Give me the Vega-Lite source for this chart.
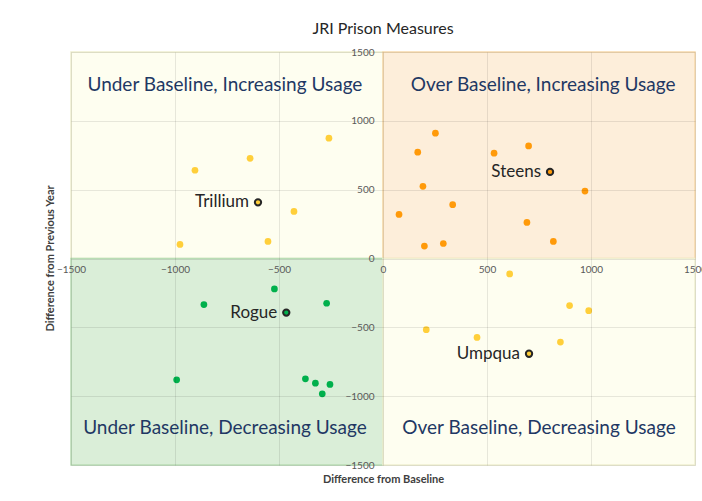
{
  "$schema": "https://vega.github.io/schema/vega-lite/v6.json",
  "autosize": "none",
  "width": 624,
  "height": 413,
  "padding": {"left": 71, "top": 52, "right": 7, "bottom": 36},
  "background": "white",
  "title": {"text": "JRI Prison Measures", "font": "Lato", "fontSize": 16, "fontWeight": "normal", "color": "#262626", "anchor": "middle", "offset": 10},
  "config": {
    "view": {"stroke": null},
    "axis": {"labelFont": "Lato", "labelFontSize": 10, "labelColor": "#595959", "titleFont": "Lato", "titleFontSize": 11, "titleColor": "#404040", "titleFontWeight": "bold", "gridColor": "#000000", "gridOpacity": 0.09, "domain": false, "ticks": false}
  },
  "encoding": {
    "x": {"field": "x", "type": "quantitative", "scale": {"domain": [-1500, 1500], "nice": false, "zero": false},
      "axis": {"orient": "bottom", "offset": -206, "zindex": 1, "format": "d", "values": [-1500, -1000, -500, 0, 500, 1000, 1500], "labelPadding": 5, "labelFlush": false, "labelOverlap": false, "title": "Difference from Baseline", "titleY": 214, "titleX": 312}},
    "y": {"field": "y", "type": "quantitative", "scale": {"domain": [-1500, 1500], "nice": false, "zero": false},
      "axis": {"orient": "left", "offset": -312, "zindex": 1, "format": "d", "values": [-1500, -1000, -500, 0, 500, 1000, 1500], "labelPadding": 9, "labelFlush": false, "labelOverlap": false, "title": "Difference from Previous Year", "titleX": -333, "titleY": 206, "titleAngle": -90, "titleBaseline": "middle"}}
  },
  "layer": [
    {
      "data": {"values": [
        {"quadrant": "Under Baseline, Increasing Usage", "x": -1500, "x2": 0, "y": 0, "y2": 1500},
        {"quadrant": "Over Baseline, Increasing Usage", "x": 0, "x2": 1500, "y": 0, "y2": 1500},
        {"quadrant": "Under Baseline, Decreasing Usage", "x": -1500, "x2": 0, "y": -1500, "y2": 0},
        {"quadrant": "Over Baseline, Decreasing Usage", "x": 0, "x2": 1500, "y": -1500, "y2": 0}
      ]},
      "mark": {"type": "rect", "strokeWidth": 1.5},
      "encoding": {
        "x2": {"field": "x2"},
        "y2": {"field": "y2"},
        "fill": {"field": "quadrant", "type": "nominal", "legend": null,
          "scale": {"domain": ["Under Baseline, Increasing Usage", "Over Baseline, Increasing Usage", "Under Baseline, Decreasing Usage", "Over Baseline, Decreasing Usage"], "range": ["#FEFEF0", "#FDEEDA", "#DAEED8", "#FEFEF0"]}},
        "stroke": {"field": "quadrant", "type": "nominal", "legend": null,
          "scale": {"domain": ["Under Baseline, Increasing Usage", "Over Baseline, Increasing Usage", "Under Baseline, Decreasing Usage", "Over Baseline, Decreasing Usage"], "range": ["#F0EFD0", "#F7D9AA", "#B9DDB4", "#F0EFD0"]}}
      }
    },
    {
      "data": {"values": [
        {"quadrant": "Under Baseline, Increasing Usage", "x": -760, "y": 1260},
        {"quadrant": "Over Baseline, Increasing Usage", "x": 770, "y": 1260},
        {"quadrant": "Under Baseline, Decreasing Usage", "x": -760, "y": -1232},
        {"quadrant": "Over Baseline, Decreasing Usage", "x": 750, "y": -1232}
      ]},
      "mark": {"type": "text", "font": "Lato", "fontSize": 19, "color": "#1F3864", "align": "center", "baseline": "middle"},
      "encoding": {"text": {"field": "quadrant"}}
    },
    {
      "data": {"values": [
        {"group": "Under Baseline, Increasing Usage", "x": -904, "y": 641},
        {"group": "Under Baseline, Increasing Usage", "x": -639, "y": 728},
        {"group": "Under Baseline, Increasing Usage", "x": -260, "y": 874},
        {"group": "Under Baseline, Increasing Usage", "x": -428, "y": 342},
        {"group": "Under Baseline, Increasing Usage", "x": -553, "y": 124},
        {"group": "Under Baseline, Increasing Usage", "x": -976, "y": 102},
        {"group": "Over Baseline, Increasing Usage", "x": 252, "y": 910},
        {"group": "Over Baseline, Increasing Usage", "x": 167, "y": 772},
        {"group": "Over Baseline, Increasing Usage", "x": 534, "y": 765},
        {"group": "Over Baseline, Increasing Usage", "x": 700, "y": 818},
        {"group": "Over Baseline, Increasing Usage", "x": 192, "y": 524},
        {"group": "Over Baseline, Increasing Usage", "x": 971, "y": 490},
        {"group": "Over Baseline, Increasing Usage", "x": 335, "y": 391},
        {"group": "Over Baseline, Increasing Usage", "x": 77, "y": 320},
        {"group": "Over Baseline, Increasing Usage", "x": 692, "y": 262},
        {"group": "Over Baseline, Increasing Usage", "x": 199, "y": 90},
        {"group": "Over Baseline, Increasing Usage", "x": 290, "y": 109},
        {"group": "Over Baseline, Increasing Usage", "x": 819, "y": 124},
        {"group": "Under Baseline, Decreasing Usage", "x": -522, "y": -221},
        {"group": "Under Baseline, Decreasing Usage", "x": -861, "y": -335},
        {"group": "Under Baseline, Decreasing Usage", "x": -271, "y": -325},
        {"group": "Under Baseline, Decreasing Usage", "x": -992, "y": -881},
        {"group": "Under Baseline, Decreasing Usage", "x": -373, "y": -874},
        {"group": "Under Baseline, Decreasing Usage", "x": -325, "y": -906},
        {"group": "Under Baseline, Decreasing Usage", "x": -255, "y": -915},
        {"group": "Under Baseline, Decreasing Usage", "x": -292, "y": -983},
        {"group": "Over Baseline, Decreasing Usage", "x": 609, "y": -112},
        {"group": "Over Baseline, Decreasing Usage", "x": 897, "y": -342},
        {"group": "Over Baseline, Decreasing Usage", "x": 989, "y": -379},
        {"group": "Over Baseline, Decreasing Usage", "x": 208, "y": -517},
        {"group": "Over Baseline, Decreasing Usage", "x": 452, "y": -573},
        {"group": "Over Baseline, Decreasing Usage", "x": 853, "y": -607}
      ]},
      "mark": {"type": "circle", "size": 45, "opacity": 1},
      "encoding": {
        "color": {"field": "group", "type": "nominal", "legend": null,
          "scale": {"domain": ["Under Baseline, Increasing Usage", "Over Baseline, Increasing Usage", "Under Baseline, Decreasing Usage", "Over Baseline, Decreasing Usage"], "range": ["#FFCF3A", "#FF9A0A", "#00B04C", "#FFCF3A"]}}
      }
    },
    {
      "data": {"values": [
        {"name": "Trillium", "group": "Under Baseline, Increasing Usage", "x": -601, "y": 408},
        {"name": "Steens", "group": "Over Baseline, Increasing Usage", "x": 803, "y": 629},
        {"name": "Rogue", "group": "Under Baseline, Decreasing Usage", "x": -465, "y": -393},
        {"name": "Umpqua", "group": "Over Baseline, Decreasing Usage", "x": 702, "y": -692}
      ]},
      "layer": [
        {
          "mark": {"type": "point", "shape": "circle", "filled": true, "size": 40, "stroke": "#262626", "strokeWidth": 2, "opacity": 1},
          "encoding": {
            "color": {"field": "group", "type": "nominal", "legend": null,
              "scale": {"domain": ["Under Baseline, Increasing Usage", "Over Baseline, Increasing Usage", "Under Baseline, Decreasing Usage", "Over Baseline, Decreasing Usage"], "range": ["#FFCF3A", "#FF9A0A", "#00B04C", "#FFCF3A"]}}
          }
        },
        {
          "mark": {"type": "text", "font": "Lato", "fontSize": 17, "color": "#262626", "align": "right", "baseline": "middle", "dx": -9},
          "encoding": {"text": {"field": "name"}}
        }
      ]
    }
  ]
}
